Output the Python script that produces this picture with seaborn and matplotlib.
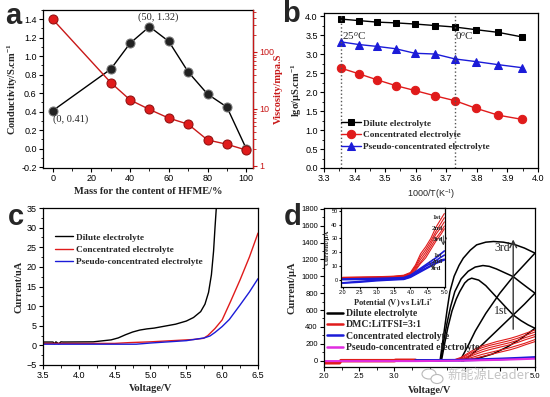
import matplotlib
matplotlib.use("Agg")
import matplotlib.pyplot as plt
import numpy as np
import seaborn as sns
from matplotlib.font_manager import FontProperties
from matplotlib.patches import Ellipse
from matplotlib.ticker import FixedFormatter, FixedLocator, FormatStrFormatter, MultipleLocator

# (a) conductivity and viscosity against HFME content
hfme_mass = [0, 30, 40, 50, 60, 70, 80, 90, 100]
conductivity = [0.41, 0.86, 1.14, 1.32, 1.16, 0.83, 0.59, 0.45, 0.0]
viscosity = [375, 29, 14.4, 9.8, 6.9, 5.4, 2.86, 2.4, 1.9]

# (b) Arrhenius plot
inv_temp = [3.355, 3.414, 3.474, 3.534, 3.597, 3.663, 3.729, 3.798, 3.870, 3.948]
lg_dilute = [3.92, 3.88, 3.84, 3.82, 3.79, 3.75, 3.71, 3.64, 3.57, 3.45]
lg_conc = [2.63, 2.48, 2.32, 2.17, 2.04, 1.90, 1.77, 1.57, 1.39, 1.28]
lg_pseudo = [3.32, 3.25, 3.20, 3.14, 3.02, 3.00, 2.87, 2.80, 2.72, 2.64]
temp_marks = [3.355, 3.727]
temp_labels = ["25$^{o}$C", "0$^{o}$C"]

# (c) LSV curves
lsv_dilute_v = [3.5, 3.64, 3.66, 3.68, 3.72, 3.75, 3.78, 4.2, 4.3, 4.45, 4.55, 4.65, 4.75,
                4.85, 4.95, 5.05, 5.2, 5.35, 5.5, 5.6, 5.7, 5.76, 5.81, 5.85, 5.88, 5.9, 5.92]
lsv_dilute_i = [0.85, 0.85, 0.4, 0.9, 0.4, 0.9, 0.85, 0.9, 1.1, 1.4, 1.9, 2.7, 3.4,
                3.9, 4.2, 4.4, 4.9, 5.4, 6.2, 7.1, 8.6, 10.5, 13.5, 18, 24, 30, 35.5]
lsv_conc_v = [3.5, 4.5, 4.7, 5.0, 5.3, 5.6, 5.74, 5.8, 5.9, 6.0, 6.12, 6.25, 6.38, 6.5]
lsv_conc_i = [0.5, 0.5, 0.7, 0.9, 1.2, 1.5, 1.8, 2.5, 4.3, 6.5, 11.3, 16.7, 22.5, 28.6]
lsv_pseudo_v = [3.5, 4.8, 5.0, 5.5, 5.75, 5.83, 5.9, 6.0, 6.1, 6.25, 6.38, 6.5]
lsv_pseudo_i = [0.3, 0.3, 0.6, 1.2, 1.9, 2.4, 3.3, 4.8, 6.6, 10.3, 13.6, 17.0]

# (d) CV of the dilute electrolyte, three cycles
cv1_fwd_v = [3.5, 3.67, 3.71, 3.76, 3.82, 3.88, 3.93, 4.0, 4.05, 4.10, 4.2, 4.3, 4.4, 4.5, 4.6, 4.69, 4.8, 4.9, 5.0]
cv1_fwd_i = [0, 0, 180, 390, 590, 730, 819, 920, 960, 978, 955, 890, 800, 710, 620, 542, 475, 425, 384]
cv1_rev_v = [5.0, 4.8, 4.6, 4.4, 4.2, 4.05, 3.95]
cv1_rev_i = [384, 260, 160, 80, 30, 8, 0]
cv2_fwd_v = [3.5, 3.66, 3.70, 3.75, 3.80, 3.86, 3.95, 4.05, 4.15, 4.26, 4.35, 4.45, 4.55, 4.69, 4.8, 4.9, 5.0]
cv2_fwd_i = [0, 0, 220, 450, 640, 819, 970, 1060, 1110, 1128, 1118, 1088, 1050, 997, 925, 862, 800]
cv2_rev_v = [5.0, 4.85, 4.69, 4.5, 4.3, 4.15, 4.05, 3.98]
cv2_rev_i = [800, 670, 542, 390, 230, 110, 40, 0]
cv3_fwd_v = [3.5, 3.65, 3.70, 3.75, 3.79, 3.85, 3.92, 3.98, 4.08, 4.17, 4.3, 4.41, 4.55, 4.7, 4.85, 5.0]
cv3_fwd_i = [0, 0, 300, 600, 819, 1000, 1130, 1215, 1310, 1373, 1405, 1413, 1405, 1380, 1335, 1275]
cv3_rev_v = [5.0, 4.85, 4.69, 4.5, 4.3, 4.15, 4.05, 3.96, 3.92]
cv3_rev_i = [1275, 1140, 997, 800, 560, 350, 180, 40, 0]

# (d) DMC:LiTFSI cycles, concentrated and pseudo-concentrated
dmc_v = [3.3, 3.85, 3.95, 4.05, 4.15, 4.25, 4.35, 4.45, 4.55, 4.65, 4.75, 4.85, 5.0]
dmc_cycles = [
    [5, 10, 40, 90, 140, 175, 200, 225, 245, 265, 290, 320, 364],
    [5, 8, 30, 75, 120, 155, 180, 200, 220, 240, 265, 295, 340],
    [5, 5, 20, 55, 95, 130, 155, 175, 195, 215, 240, 270, 310],
    [5, 5, 15, 40, 75, 105, 130, 150, 170, 190, 215, 245, 285],
    [5, 3, 8, 25, 50, 75, 95, 115, 135, 155, 180, 205, 250],
    [5, 2, 5, 15, 30, 50, 70, 90, 110, 130, 155, 185, 226],
]
dmc_base_v = [2.0, 2.22, 2.24, 3.0, 3.02, 3.3]
dmc_base_i = [-25, -25, 0, 0, 5, 5]
conc_cv_v = [3.3, 3.9, 4.2, 4.5, 4.8, 5.0]
conc_cv_i = [2, 5, 12, 20, 30, 38]
pseudo_cv_v = [2.0, 3.3, 3.9, 4.2, 4.5, 4.8, 5.0]
pseudo_cv_i = [-5, -5, 0, 5, 10, 18, 24]
cv_legend = ["Dilute electrolyte", "DMC:LiTFSI=3:1", "Concentrated electrolyte",
             "Pseudo-concentrated electrolyte"]
# tick labels 3.5-4.5 are hidden under the watermark in the source image
d_xticks = [2.0, 2.5, 3.0, 3.5, 4.0, 4.5, 5.0]
d_xticklabels = ["2.0", "2.5", "3.0", "", "", "", "5.0"]

# (d) inset
inset_v = [2.0, 2.5, 3.0, 3.5, 3.8, 4.0, 4.15, 4.3, 4.45, 4.6, 4.75, 4.9, 5.0]
inset_red = [
    [2.0, 2.2, 2.4, 2.8, 3.5, 5.5, 11, 19, 24, 30, 38, 44, 48],
    [1.8, 2.0, 2.2, 2.6, 3.2, 5.0, 10, 17, 22, 28, 35, 41, 45],
    [1.5, 1.8, 2.0, 2.4, 3.0, 4.6, 9, 15, 20, 26, 33, 38, 42],
    [1.2, 1.5, 1.8, 2.2, 2.8, 4.2, 8, 13, 18, 24, 30, 35, 39],
    [1.0, 1.3, 1.6, 2.0, 2.5, 3.8, 7, 12, 16, 22, 28, 33, 37],
]
inset_blue = [
    [0.8, 1.0, 1.2, 1.5, 1.8, 3.5, 6, 8.5, 11, 13.5, 16, 19, 21],
    [0.3, 0.5, 0.7, 1.0, 1.3, 3.0, 5, 7.5, 10, 12, 14, 16.5, 18],
    [-2.0, -1.0, 0, 0.5, 0.8, 2.5, 4.5, 6.5, 8.5, 10.5, 12.5, 14.5, 15],
    [-2.2, -1.5, -0.5, 0.2, 0.5, 2.0, 4, 6, 8, 10, 12, 13.5, 14.5],
]

RED = "#e01b1b"
BLUE = "#1b1bd8"
MAGENTA = "#e02ce0"
SERIF = ["Liberation Serif", "DejaVu Serif"]
W, H = 550, 397

sns.set_theme(style="ticks")
plt.rcParams["font.family"] = ["Liberation Sans", "DejaVu Sans"]
plt.rcParams.update({
    "mathtext.fontset": "custom",
    "mathtext.rm": "Liberation Serif",
    "mathtext.it": "Liberation Serif:italic",
    "mathtext.bf": "Liberation Serif:bold",
    "axes.linewidth": 0.9,
    "axes.edgecolor": "black",
    "xtick.color": "black",
    "ytick.color": "black",
    "xtick.labelsize": 6.5,
    "ytick.labelsize": 6.5,
    "xtick.major.size": 3,
    "ytick.major.size": 3,
    "xtick.minor.size": 1.8,
    "ytick.minor.size": 1.8,
    "xtick.major.width": 0.8,
    "ytick.major.width": 0.8,
    "xtick.minor.width": 0.6,
    "ytick.minor.width": 0.6,
    "xtick.major.pad": 1.5,
    "ytick.major.pad": 1.5,
})


def axes_at(left, top, right, bottom):
    return fig.add_axes([left / W, 1 - bottom / H, (right - left) / W, (bottom - top) / H])


def label(ax, xlabel, ylabel, size=7.5, xpad=2, ypad=2):
    ax.set_xlabel(xlabel, family=SERIF, fontweight="bold", fontsize=size, labelpad=xpad)
    ax.set_ylabel(ylabel, family=SERIF, fontweight="bold", fontsize=size, labelpad=ypad)


fig = plt.figure(figsize=(5.5, 3.97), dpi=100)
legend_font = FontProperties(family=SERIF, weight="bold", size=6.7)

# ---- a ----
ax_a = axes_at(43, 10, 253, 168)
sns.lineplot(x=hfme_mass, y=conductivity, ax=ax_a, color="black", linewidth=1,
             marker="o", markersize=6.5, markerfacecolor="#222222", markeredgecolor="#777777")
ax_a.set_xlim(-5, 103.5)
ax_a.set_ylim(-0.21, 1.5)
ax_a.xaxis.set_major_locator(MultipleLocator(20))
ax_a.xaxis.set_minor_locator(MultipleLocator(10))
ax_a.yaxis.set_major_locator(MultipleLocator(0.2))
ax_a.yaxis.set_minor_locator(MultipleLocator(0.1))
ax_a.yaxis.set_major_formatter(FormatStrFormatter("%.1f"))
label(ax_a, "Mass for the content of HFME/%", "Conductivity/S.cm$^{\\mathbf{-1}}$", xpad=3, ypad=1)
ax_a.annotate(f"({hfme_mass[3]}, {conductivity[3]})", (hfme_mass[3], conductivity[3]),
              xytext=(6, 7), textcoords="offset points", ha="center", va="center",
              family=SERIF, fontsize=7.5)
ax_a.annotate(f"({hfme_mass[0]}, {conductivity[0]})", (hfme_mass[0], conductivity[0]),
              xytext=(13, -6), textcoords="offset points", ha="center", va="center",
              family=SERIF, fontsize=7.5)

ax_v = ax_a.twinx()
ax_v.set_yscale("log")
sns.lineplot(x=hfme_mass, y=viscosity, ax=ax_v, color="#c81818", linewidth=1,
             marker="o", markersize=6.5, markerfacecolor=RED, markeredgecolor="#901010")
ax_v.set_ylim(0.92, 545)
ax_v.spines["right"].set_color("#c81818")
for side in ("left", "top", "bottom"):
    ax_v.spines[side].set_visible(False)
ax_v.tick_params(axis="y", which="both", colors="#c81818")
ax_v.yaxis.set_major_formatter(FormatStrFormatter("%g"))
ax_v.set_ylabel("Viscosity/mpa.S", family=SERIF, fontweight="bold", fontsize=7.5,
                color="#c81818", labelpad=0)

# ---- b ----
ax_b = axes_at(324, 13, 538, 168)
sns.lineplot(x=inv_temp, y=lg_dilute, ax=ax_b, color="black", linewidth=1, marker="s",
             markersize=5, markeredgecolor="black", label="Dilute electrolyte")
sns.lineplot(x=inv_temp, y=lg_conc, ax=ax_b, color=RED, linewidth=1, marker="o",
             markersize=6, markeredgecolor=RED, label="Concentrated electrolyte")
sns.lineplot(x=inv_temp, y=lg_pseudo, ax=ax_b, color=BLUE, linewidth=1, marker="^",
             markersize=5.5, markeredgecolor=BLUE, label="Pseudo-concentrated electrolyte")
for x_mark, text in zip(temp_marks, temp_labels):
    ax_b.axvline(x_mark, color="#555555", linestyle=":", linewidth=1)
    ax_b.text(x_mark + 0.003, 3.47, text, family=SERIF, fontsize=8, va="center")
ax_b.set_xlim(3.3, 4.0)
ax_b.set_ylim(0, 4.08)
ax_b.xaxis.set_major_locator(MultipleLocator(0.1))
ax_b.xaxis.set_minor_locator(MultipleLocator(0.05))
ax_b.yaxis.set_major_locator(MultipleLocator(0.5))
ax_b.yaxis.set_minor_locator(MultipleLocator(0.25))
ax_b.yaxis.set_major_formatter(FormatStrFormatter("%.1f"))
ax_b.set_xlabel("1000/T(K$^{-1}$)", fontsize=6.5, labelpad=3)
ax_b.set_ylabel("lg\u03c3/\u03bcS.cm$^{\\mathbf{-1}}$", family=SERIF, fontweight="bold",
                fontsize=7.5, labelpad=1)
ax_b.legend(frameon=False, loc="upper left", bbox_to_anchor=(0.08, 0.315), prop=legend_font,
            handlelength=2.1, handletextpad=0.2, labelspacing=0.35, borderpad=0, borderaxespad=0)

# ---- c ----
ax_c = axes_at(43, 208, 258, 365)
sns.lineplot(x=lsv_dilute_v, y=lsv_dilute_i, ax=ax_c, color="black", linewidth=1,
             sort=False, estimator=None, label="Dilute electrolyte")
sns.lineplot(x=lsv_conc_v, y=lsv_conc_i, ax=ax_c, color=RED, linewidth=1,
             sort=False, estimator=None, label="Concentrated electrolyte")
sns.lineplot(x=lsv_pseudo_v, y=lsv_pseudo_i, ax=ax_c, color=BLUE, linewidth=1,
             sort=False, estimator=None, label="Pseudo-concentrated electrolyte")
ax_c.set_xlim(3.5, 6.5)
ax_c.set_ylim(-5, 35)
ax_c.xaxis.set_major_locator(MultipleLocator(0.5))
ax_c.xaxis.set_minor_locator(MultipleLocator(0.25))
ax_c.yaxis.set_major_locator(MultipleLocator(5))
ax_c.yaxis.set_minor_locator(MultipleLocator(2.5))
ax_c.xaxis.set_major_formatter(FormatStrFormatter("%.1f"))
label(ax_c, "Voltage/V", "Current/uA", xpad=3, ypad=2)
ax_c.legend(frameon=False, loc="upper left", bbox_to_anchor=(0.055, 0.84), prop=legend_font,
            handlelength=1.9, handletextpad=0.35, labelspacing=0.4, borderpad=0, borderaxespad=0)

# ---- d ----
ax_d = axes_at(324, 208, 535, 367)
black_cv = [(cv1_fwd_v, cv1_fwd_i), (cv1_rev_v, cv1_rev_i), (cv2_fwd_v, cv2_fwd_i),
            (cv2_rev_v, cv2_rev_i), (cv3_fwd_v, cv3_fwd_i), (cv3_rev_v, cv3_rev_i)]
for k, (v, i) in enumerate(black_cv):
    sns.lineplot(x=v, y=i, ax=ax_d, color="black", linewidth=1.1, sort=False, estimator=None,
                 label=cv_legend[0] if k == 0 else None)
sns.lineplot(x=dmc_base_v, y=dmc_base_i, ax=ax_d, color=RED, linewidth=2.5, sort=False,
             estimator=None, label=cv_legend[1])
for i in dmc_cycles:
    sns.lineplot(x=dmc_v, y=i, ax=ax_d, color=RED, linewidth=0.8, sort=False, estimator=None)
sns.lineplot(x=conc_cv_v, y=conc_cv_i, ax=ax_d, color=BLUE, linewidth=2, sort=False,
             estimator=None, label=cv_legend[2])
sns.lineplot(x=pseudo_cv_v, y=pseudo_cv_i, ax=ax_d, color=MAGENTA, linewidth=1.5, sort=False,
             estimator=None, label=cv_legend[3])
ax_d.set_xlim(2.0, 5.0)
ax_d.set_ylim(-75, 1810)
ax_d.xaxis.set_major_locator(FixedLocator(d_xticks))
ax_d.xaxis.set_major_formatter(FixedFormatter(d_xticklabels))
ax_d.xaxis.set_minor_locator(MultipleLocator(0.25))
ax_d.yaxis.set_major_locator(MultipleLocator(200))
ax_d.yaxis.set_minor_locator(MultipleLocator(100))
ax_d.tick_params(labelsize=5.5)
label(ax_d, "Voltage/V", "Current/\u03bcA", xpad=4, ypad=3)
ax_d.annotate("", xy=(4.69, 1470), xytext=(4.69, 340),
              arrowprops=dict(arrowstyle="->", color="#333333", lw=1))
ax_d.text(4.53, 1340, "3rd", family=SERIF, fontsize=8.5, ha="center", va="center")
ax_d.text(4.52, 590, "1st", family=SERIF, fontsize=8.5, ha="center", va="center")
leg = ax_d.legend(frameon=False, loc="upper left", bbox_to_anchor=(0.012, 0.365),
                  prop=FontProperties(family=SERIF, weight="bold", size=7.0),
                  handlelength=1.7, handletextpad=0.3, labelspacing=0.25, borderpad=0,
                  borderaxespad=0)
for line in leg.get_lines():
    line.set_linewidth(1.8)

ax_in = axes_at(341, 208, 445, 287)
for i in inset_red:
    sns.lineplot(x=inset_v, y=i, ax=ax_in, color=RED, linewidth=0.8, sort=False, estimator=None)
for i in inset_blue:
    sns.lineplot(x=inset_v, y=i, ax=ax_in, color=BLUE, linewidth=1.2, sort=False, estimator=None)
ax_in.set_xlim(1.95, 5.02)
ax_in.set_ylim(-5, 52)
ax_in.xaxis.set_major_locator(MultipleLocator(0.5))
ax_in.yaxis.set_major_locator(MultipleLocator(10))
ax_in.xaxis.set_major_formatter(FormatStrFormatter("%.1f"))
ax_in.tick_params(labelsize=4, length=1.5, pad=1)
label(ax_in, "Potential (V) vs Li/Li$^{\\mathbf{+}}$", "Current/\u03bcA", size=6, xpad=1.5, ypad=1)
ax_in.yaxis.label.set_size(5)
for x_t, y_t, t in [(4.78, 45, "1st"), (4.8, 37, "2nd"), (4.8, 29, "3rd"),
                    (4.82, 18, "1st"), (4.8, 13.5, "2nd"), (4.75, 8.5, "3rd")]:
    ax_in.text(x_t, y_t, t, family=SERIF, fontsize=5, fontweight="bold", ha="center", va="center")
ax_in.annotate("", xy=(4.97, 23), xytext=(4.97, 34),
               arrowprops=dict(arrowstyle="->", color="#333333", lw=0.6))
ax_in.annotate("", xy=(4.66, 5.5), xytext=(4.66, 14),
               arrowprops=dict(arrowstyle="->", color="#333333", lw=0.6))

# panel letters
for x_l, y_l, t in [(13, 16, "a"), (291, 14, "b"), (16, 217, "c"), (293, 217, "d")]:
    fig.text(x_l / W, 1 - y_l / H, t, fontsize=21, fontweight="bold",
             family=["Liberation Sans", "DejaVu Sans"], ha="center", va="center")

# watermark
fig.text(488 / W, 1 - 376 / H, "\u65b0\u80fd\u6e90Leader", fontsize=9.5, color="#c4c4c4",
         family=["Noto Sans CJK SC", "DejaVu Sans"], ha="center", va="center")
fig.patches.append(Ellipse((429 / W, 1 - 374 / H), 14 / W, 10 / H, transform=fig.transFigure,
                           facecolor="white", edgecolor="#b8b8b8", lw=0.8))
fig.patches.append(Ellipse((437 / W, 1 - 379 / H), 12 / W, 9 / H, transform=fig.transFigure,
                           facecolor="white", edgecolor="#b8b8b8", lw=0.8))

fig.savefig("out.png", dpi=100)
